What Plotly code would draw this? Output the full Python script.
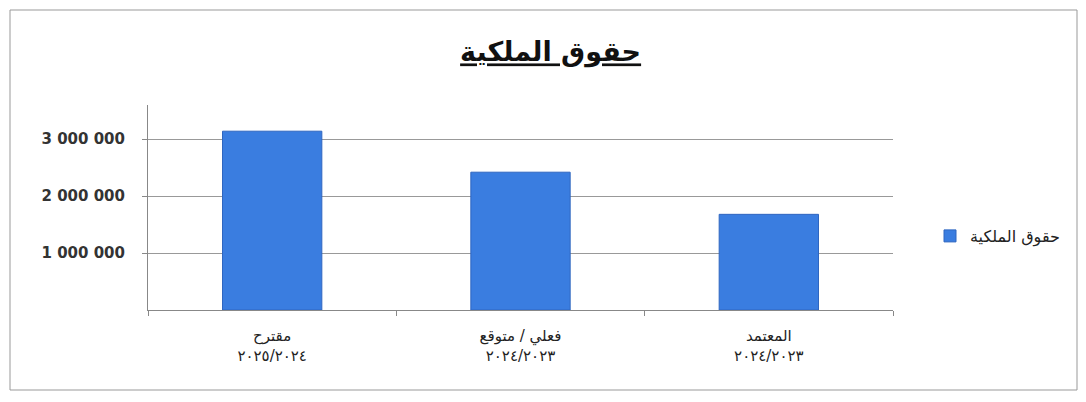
import plotly.graph_objects as go

categories = ["مقترح<br>٢٠٢٥/٢٠٢٤", "فعلي / متوقع<br>٢٠٢٤/٢٠٢٣", "المعتمد<br>٢٠٢٤/٢٠٢٣"]
values = [3140000, 2420000, 1680000]
series_name = "حقوق الملكية"
title_text = "حقوق الملكية"
tick_vals = [1000000, 2000000, 3000000]

fig = go.Figure()
fig.add_trace(go.Bar(
    x=categories, y=values, name=series_name,
    marker=dict(color="#3a7de0", line=dict(color="#2f66c0", width=1)),
    width=0.4, showlegend=True,
))

W, H = 1086, 402
L, R, T, B = 148, 193, 105, 92
pw, ph = W - L - R, H - T - B

def px_x(p):
    return (p - L) / pw

def px_y(p):
    return (H - B - p) / ph

fig.update_layout(
    width=W, height=H,
    margin=dict(l=L, r=R, t=T, b=B),
    paper_bgcolor="white", plot_bgcolor="white",
    separators=". ",
    font=dict(family="DejaVu Sans, Liberation Sans, sans-serif", color="#222"),
    title=dict(text="<b><u>" + title_text + "</u></b>", x=0.507, xref="container",
               y=1 - 52 / H, yref="container", xanchor="center", yanchor="middle",
               font=dict(size=27, color="#111", family="DejaVu Sans")),
    xaxis=dict(showline=True, linecolor="#888", linewidth=1, ticks="outside",
               tickson="boundaries", ticklen=5, tickcolor="#888",
               tickfont=dict(size=15, color="#222", family="DejaVu Sans"),
               ticklabelstandoff=12, showgrid=False),
    yaxis=dict(range=[0, 3600000], tickvals=tick_vals, tickformat=",d",
               showline=True, linecolor="#888", linewidth=1, ticks="outside",
               ticklen=5, tickcolor="#888", showgrid=True, gridcolor="#999",
               gridwidth=1, zeroline=False,
               tickfont=dict(size=15, color="#333", family="DejaVu Sans", weight="bold"),
               ticklabelstandoff=14),
    legend=dict(x=px_x(930), y=px_y(236), xanchor="left", yanchor="middle",
                itemwidth=30, font=dict(size=16, color="#222", family="DejaVu Sans"),
                bgcolor="rgba(0,0,0,0)"),
    bargap=0.6,
    shapes=[dict(type="rect", xref="paper", yref="paper",
                 x0=px_x(10), x1=px_x(1077), y0=px_y(390), y1=px_y(10),
                 line=dict(color="#999", width=1), fillcolor="rgba(0,0,0,0)", layer="below")],
)

fig.write_html("out.html")
